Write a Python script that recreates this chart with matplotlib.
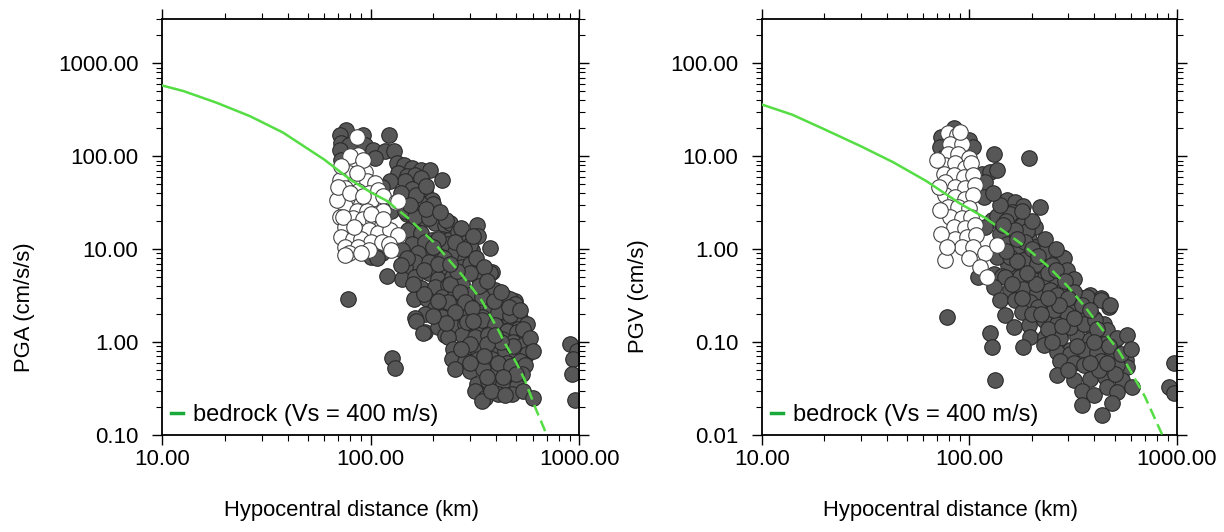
import numpy as np
import matplotlib.pyplot as plt
from matplotlib.ticker import FixedLocator, FuncFormatter, LogLocator, NullFormatter
from matplotlib.lines import Line2D

plt.rcParams['font.family'] = ['Liberation Sans', 'DejaVu Sans']

# ---- PGA panel data (distance km, PGA cm/s/s) ----
pga_dark = [
    (76, 193), (71, 171), (92, 171), (122, 171), (72, 139), (79, 133), (94, 133), (103, 118),
    (117, 113), (129, 113), (105, 96), (134, 84), (144, 81), (158, 75), (175, 72), (193, 72),
    (136, 66), (150, 61), (163, 63), (175, 58), (219, 56), (147, 54), (124, 54), (113, 47),
    (158, 44), (182, 42), (172, 32), (196, 34), (126, 26), (150, 24), (161, 21), (182, 21),
    (204, 19), (227, 18), (240, 19), (152, 16), (175, 15), (196, 12.5), (219, 13), (235, 12.5),
    (158, 11.5), (190, 9.8), (219, 9.8), (245, 9.4), (113, 9.0), (101, 8.3), (175, 31), (200, 31),
    (147, 26), (163, 22), (190, 21.5), (231, 20.6), (264, 15.4), (323, 18), (329, 14), (289, 12),
    (235, 11.5), (211, 13), (182, 12), (141, 9.8), (169, 9), (219, 8.3), (254, 9.4), (284, 7.9),
    (305, 9.8), (374, 10.2), (163, 7.3), (190, 7.3), (147, 6.4), (227, 6.4), (274, 6.4), (329, 5.0),
    (381, 5.7), (141, 4.8), (163, 5.0), (190, 5.5), (211, 4.8), (245, 5.0), (175, 3.8), (204, 3.9),
    (235, 4.1), (274, 4.25), (161, 2.9), (186, 2.9), (219, 3.05), (254, 3.2), (305, 3.3), (361, 3.2),
    (396, 3.6), (441, 3.05), (493, 2.8), (425, 2.4), (476, 2.1), (367, 2.3), (317, 2.4), (274, 2.5),
    (235, 2.4), (204, 2.3), (182, 2.0), (163, 1.8), (219, 1.86), (254, 1.86), (295, 1.95), (341, 1.86),
    (396, 1.8), (467, 1.7), (521, 1.8), (182, 1.28), (211, 1.45), (245, 1.5), (284, 1.57), (329, 1.4),
    (374, 1.33), (441, 1.33), (511, 1.4), (227, 1.18), (274, 1.18), (317, 1.13), (374, 5.5), (240, 4.25),
    (269, 3.45), (235, 2.7), (284, 2.7), (341, 3.05), (467, 2.9), (493, 2.6), (254, 2.1), (305, 2.3),
    (410, 2.1), (467, 1.95), (561, 1.57), (289, 1.64), (341, 1.71), (396, 1.53), (450, 1.33), (502, 1.28),
    (551, 1.18), (235, 1.13), (367, 1.18), (425, 1.08), (484, 1.0), (541, 0.92), (249, 0.85), (289, 0.88),
    (329, 0.81), (381, 0.84), (441, 0.81), (502, 0.745), (561, 0.745), (245, 0.66), (284, 0.63), (329, 0.66),
    (381, 0.66), (450, 0.6), (521, 0.63), (551, 0.56), (254, 0.51), (300, 0.49), (347, 0.51), (403, 0.47),
    (467, 0.47), (531, 0.45), (323, 0.35), (367, 0.38), (433, 0.35), (502, 0.34), (317, 0.3), (354, 0.25),
    (410, 0.275), (476, 0.275), (541, 0.3), (604, 0.25), (341, 0.23), (906, 0.955), (976, 0.81), (940, 0.66),
    (920, 0.45), (960, 0.24), (78, 2.9), (127, 0.68), (131, 0.52), (165, 1.7), (178, 1.26), (107, 8.1),
    (120, 5.1), (71, 118), (72, 92),
    (140, 40), (165, 38), (185, 48), (155, 30), (185, 27), (215, 25), (270, 17), (255, 12), (300, 11),
    (310, 14), (280, 10), (300, 7), (320, 8), (350, 6.5), (330, 4), (360, 4.5), (300, 5.5), (260, 5.8),
    (225, 8), (210, 7), (180, 6), (150, 8), (200, 10.5), (240, 7), (390, 2.8), (420, 3.5), (460, 2.4),
    (520, 2.2), (540, 1.4), (580, 1.1), (600, 0.8), (480, 0.9), (420, 1.0), (360, 0.95), (300, 0.95),
    (270, 0.85), (350, 0.7), (410, 0.6), (470, 0.55), (500, 0.45), (430, 0.42), (380, 0.3), (440, 0.27),
    (300, 0.6), (360, 0.42), (395, 1.2), (310, 1.7), (230, 1.6), (200, 1.9), (210, 2.8), (180, 3.3),
    (160, 4.2), (140, 6.8),
]
pga_white = [
    (86, 160), (87, 103), (77, 84), (85, 81), (94, 68), (79, 66), (71, 56), (85, 54), (96, 54), (105, 51),
    (75, 45), (87, 42), (98, 40), (109, 43.5), (71, 37), (82, 34), (90, 31), (101, 34), (115, 37), (132, 32.5),
    (75, 29), (86, 26), (96, 26), (105, 24), (115, 26), (71, 22), (82, 21.5), (92, 21), (103, 20), (113, 18),
    (75, 17.4), (86, 16), (98, 16), (109, 15), (124, 16), (136, 14.3), (72, 13.6), (82, 13), (90, 13),
    (101, 12), (113, 12), (122, 11.5), (75, 10.6), (87, 10.6), (98, 9.8), (79, 9), (90, 9), (126, 9.8),
    (75, 8.6), (136, 33), (69, 34), (70, 47), (80, 40), (92, 37), (74, 22.4), (83, 17.4), (100, 24),
    (115, 21), (80, 100), (72, 78), (92, 92), (86, 66),
]
pga_curve_dist = [10, 12.7, 18.3, 26.4, 38, 60, 80, 100, 120, 131, 150, 200, 274, 341, 410, 442, 500, 551, 615, 700]
pga_curve_val = [578, 502, 376, 270, 180, 92, 56, 41, 33, 28, 22, 12, 5.3, 2.8, 1.35, 0.96, 0.6, 0.384, 0.2, 0.1]

# ---- PGV panel data (distance km, PGV cm/s) ----
pgv_dark = [
    (84, 20), (99, 14.9), (73, 16.2), (72, 12.6), (104, 12.6), (131, 10.7), (193, 9.5), (75, 9.9),
    (115, 6.5), (126, 6.8), (135, 7.1), (119, 5.3), (117, 3.66), (151, 3.37), (166, 3.2), (182, 2.95),
    (144, 2.63), (160, 2.5), (219, 2.86), (172, 2.23), (128, 2.05), (157, 1.89), (179, 1.8), (207, 1.74),
    (119, 1.74), (149, 1.47), (172, 1.42), (193, 1.3), (163, 1.06), (207, 1.06), (232, 0.975), (141, 0.87),
    (179, 0.9), (250, 0.76), (279, 0.83), (200, 0.7), (154, 0.67), (179, 0.59), (232, 0.59), (269, 0.547),
    (110, 0.5), (131, 0.547), (144, 0.52), (169, 0.5), (207, 0.5), (135, 2.3), (157, 2.42), (141, 1.47),
    (189, 1.55), (151, 1.15), (169, 1.06), (228, 0.94), (284, 0.8), (135, 0.83), (157, 0.83), (182, 0.76),
    (211, 0.7), (250, 0.67), (295, 0.594), (318, 0.48), (149, 0.5), (176, 0.5), (204, 0.463), (232, 0.5),
    (264, 0.445), (131, 0.393), (157, 0.362), (182, 0.377), (211, 0.347), (245, 0.362), (284, 0.377),
    (336, 0.307), (383, 0.32), (428, 0.295), (470, 0.239), (141, 0.282), (166, 0.282), (196, 0.27),
    (228, 0.25), (264, 0.282), (306, 0.26), (149, 0.195), (179, 0.21), (215, 0.239), (250, 0.203),
    (295, 0.203), (343, 0.187), (397, 0.18), (444, 0.158), (163, 0.146), (193, 0.152), (228, 0.172),
    (264, 0.158), (318, 0.146), (369, 0.152), (196, 0.114), (232, 0.114), (274, 0.119), (330, 0.114),
    (383, 0.105), (444, 0.119), (496, 0.1), (182, 0.089), (228, 0.093), (264, 0.089), (306, 0.082),
    (369, 0.082), (428, 0.078), (496, 0.075), (264, 0.32), (306, 0.307), (369, 0.307), (428, 0.282),
    (478, 0.25), (255, 0.22), (343, 0.195), (306, 0.146), (356, 0.158), (404, 0.172), (461, 0.134),
    (515, 0.11), (576, 0.119), (274, 0.11), (444, 0.096), (264, 0.078), (306, 0.075), (356, 0.082),
    (412, 0.078), (487, 0.069), (565, 0.064), (576, 0.054), (274, 0.062), (318, 0.059), (356, 0.056),
    (428, 0.062), (515, 0.056), (264, 0.044), (318, 0.039), (383, 0.04), (452, 0.042), (545, 0.039),
    (609, 0.033), (350, 0.03), (397, 0.027), (461, 0.033), (515, 0.029), (487, 0.022), (350, 0.021),
    (436, 0.0165), (966, 0.059), (915, 0.033), (966, 0.028), (78, 0.187), (126, 0.124), (128, 0.089),
    (133, 0.039),
    (150, 2.0), (165, 1.6), (185, 1.2), (200, 1.0), (215, 0.85), (240, 0.55), (260, 0.6), (290, 0.45),
    (320, 0.35), (350, 0.25), (300, 0.3), (270, 0.25), (240, 0.3), (210, 0.42), (190, 0.55), (170, 0.75),
    (150, 0.95), (160, 0.42), (180, 0.3), (200, 0.2), (220, 0.2), (240, 0.14), (280, 0.15), (320, 0.18),
    (380, 0.22), (410, 0.14), (330, 0.09), (400, 0.1), (470, 0.09), (540, 0.075), (250, 0.1), (300, 0.05),
    (420, 0.05), (500, 0.045), (380, 0.06), (460, 0.06), (600, 0.085), (170, 1.3), (200, 2.0), (230, 1.3),
    (260, 1.0), (180, 2.6), (140, 3.0), (130, 4.0), (145, 1.8),
]
pgv_white = [
    (79, 17.6), (87, 16.9), (81, 13.7), (92, 13.7), (79, 10.7), (88, 10.7), (99, 9.5), (76, 8.1),
    (85, 8.4), (95, 7.4), (102, 8.4), (75, 6.5), (84, 6.25), (94, 6.0), (104, 6.25), (76, 5.3), (85, 4.7),
    (95, 4.5), (106, 4.9), (76, 3.8), (85, 3.66), (95, 3.5), (104, 3.8), (79, 2.86), (88, 2.86), (99, 2.75),
    (81, 2.23), (92, 2.15), (102, 2.23), (84, 1.74), (95, 1.67), (106, 1.8), (85, 1.3), (97, 1.36),
    (108, 1.42), (92, 1.06), (104, 1.06), (76, 0.76), (99, 0.8), (119, 0.9), (135, 1.1), (113, 0.645),
    (121, 0.5), (90, 18.4), (70, 9.1), (71, 4.7), (72, 2.63), (73, 1.47), (78, 1.06),
]
pgv_curve_dist = [10, 14, 20, 30, 43, 62, 90, 120, 182, 240, 300, 360, 428, 525, 600, 700, 850]
pgv_curve_val = [36, 28, 19.5, 12.8, 8.6, 5.4, 3.1, 2.15, 1.1, 0.65, 0.39, 0.24, 0.145, 0.08, 0.048, 0.026, 0.01]

legend_label = "bedrock (Vs = 400 m/s)"
split_km = 120

panels = [
    dict(dark=pga_dark, white=pga_white, cd=pga_curve_dist, cv=pga_curve_val,
         ylim=(0.1, 3000), yticks=[0.1, 1, 10, 100, 1000], ylabel="PGA (cm/s/s)",
         pos=[0.1324, 0.1823, 0.3407, 0.782], ylab_xy=(-0.305, 0.307)),
    dict(dark=pgv_dark, white=pgv_white, cd=pgv_curve_dist, cv=pgv_curve_val,
         ylim=(0.01, 300), yticks=[0.01, 0.1, 1, 10, 100], ylabel="PGV (cm/s)",
         pos=[0.6225, 0.1823, 0.3391, 0.782], ylab_xy=(-0.272, 0.335)),
]

fig = plt.figure(figsize=(12.24, 5.32), dpi=100)
curve_col = '#55dd44'
fmt = FuncFormatter(lambda v, _: f"{v:.2f}")

for p in panels:
    ax = fig.add_axes(p['pos'])
    ax.set_xscale('log')
    ax.set_yscale('log')
    ax.set_xlim(10, 1000)
    ax.set_ylim(*p['ylim'])

    dd, dv = zip(*p['dark'])
    ax.scatter(dd, dv, s=125, c='#575757', edgecolors='#2a2a2a', linewidths=0.8, zorder=2)
    wd, wv = zip(*p['white'])
    ax.scatter(wd, wv, s=125, c='white', edgecolors='#444444', linewidths=0.8, zorder=3)

    cd = np.array(p['cd'])
    cv = np.array(p['cv'])
    near = cd <= split_km
    far = cd >= split_km
    ax.plot(cd[near], cv[near], color=curve_col, lw=1.8, zorder=4)
    ax.plot(cd[far], cv[far], color=curve_col, lw=1.8, dashes=(4.5, 2.3), zorder=4)

    ax.xaxis.set_major_locator(FixedLocator([10, 100, 1000]))
    ax.xaxis.set_major_formatter(fmt)
    ax.xaxis.set_minor_locator(LogLocator(base=10, subs=np.arange(2, 10)))
    ax.xaxis.set_minor_formatter(NullFormatter())
    ax.yaxis.set_major_locator(FixedLocator(p['yticks']))
    ax.yaxis.set_major_formatter(fmt)
    ax.yaxis.set_minor_locator(LogLocator(base=10, subs=np.arange(2, 10)))
    ax.yaxis.set_minor_formatter(NullFormatter())

    ax.tick_params(which='both', direction='out', top=True, right=True, labelsize=16, colors='black')
    ax.tick_params(which='major', length=7, width=1)
    ax.tick_params(which='minor', length=4, width=0.8)
    ax.tick_params(axis='y', pad=10)
    ax.tick_params(axis='x', pad=3)
    for sp in ax.spines.values():
        sp.set_linewidth(1.3)

    ax.set_xlabel("Hypocentral distance (km)", fontsize=15.8)
    ax.set_ylabel(p['ylabel'], fontsize=15.8)
    ax.xaxis.set_label_coords(0.455, -0.157)
    ax.yaxis.set_label_coords(*p['ylab_xy'])

    handle = Line2D([], [], color='#1aaa3a', lw=2.5)
    ax.legend([handle], [legend_label], loc='lower left', bbox_to_anchor=(0.022, 0.022),
              frameon=False, fontsize=17, handlelength=0.5, handletextpad=0.42,
              borderpad=0, borderaxespad=0)

fig.savefig('out.png', dpi=100)
